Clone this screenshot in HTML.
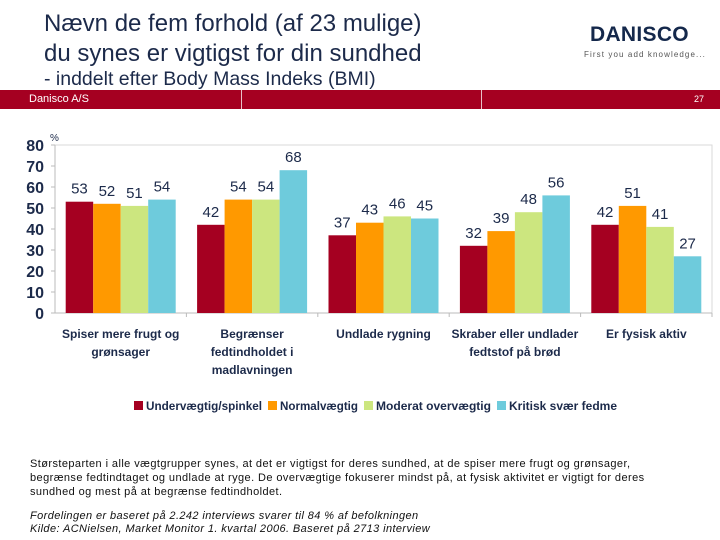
<!DOCTYPE html>
<html><head><meta charset="utf-8"><style>
body{margin:0;width:720px;height:540px;background:#fff;font-family:"Liberation Sans",sans-serif;position:relative;overflow:hidden}
.t{position:absolute;color:#1c2a4a}
</style></head><body>
<div class="t" style="left:44px;top:9px;font-size:24px;line-height:30px">Nævn de fem forhold (af 23 mulige)<br>du synes er vigtigst for din sundhed</div>
<div class="t" style="left:44px;top:68px;font-size:19.5px">- inddelt efter Body Mass Indeks (BMI)</div>
<div style="position:absolute;left:590px;top:23px;color:#14284b;font-weight:bold;font-size:21px;letter-spacing:0.3px">DANISCO</div>
<div style="position:absolute;left:584px;top:50px;color:#555;font-size:8px;letter-spacing:1.1px">First you add knowledge...</div>
<div style="position:absolute;left:0;top:90px;width:720px;height:19px;background:#a50021">
<div style="position:absolute;left:241px;top:0;width:1px;height:19px;background:#e8c0c8"></div>
<div style="position:absolute;left:481px;top:0;width:1px;height:19px;background:#e8c0c8"></div>
<span style="position:absolute;left:29px;top:3px;color:#fff;font-size:11px">Danisco A/S</span>
<span style="position:absolute;left:694px;top:4px;color:#fff;font-size:9px">27</span>
</div>
<svg id="chart" width="720" height="540" style="position:absolute;left:0;top:0" font-family="Liberation Sans, sans-serif"></svg>
<div class="t" style="left:30px;top:457px;font-size:11px;line-height:14px;color:#111;letter-spacing:0.42px;white-space:nowrap">Størsteparten i alle vægtgrupper synes, at det er vigtigst for deres sundhed, at de spiser mere frugt og grønsager,<br>begrænse fedtindtaget og undlade at ryge. De overvægtige fokuserer mindst på, at fysisk aktivitet er vigtigt for deres<br>sundhed og mest på at begrænse fedtindholdet.</div>
<div class="t" style="left:30px;top:510px;font-size:11px;line-height:13px;color:#111;font-style:italic;letter-spacing:0.4px;white-space:nowrap">Fordelingen er baseret på 2.242 interviews svarer til 84 % af befolkningen<br>Kilde: ACNielsen, Market Monitor 1. kvartal 2006. Baseret på 2713 interview</div>
<script>
const categories=[["Spiser mere frugt og","grønsager"],["Begrænser","fedtindholdet i","madlavningen"],["Undlade rygning"],["Skraber eller undlader","fedtstof på brød"],["Er fysisk aktiv"]];
const seriesNames=["Undervægtig/spinkel","Normalvægtig","Moderat overvægtig","Kritisk svær fedme"];
const undervaegtig=[53,42,37,32,42];
const normalvaegtig=[52,54,43,39,51];
const moderat=[51,54,46,48,41];
const kritisk=[54,68,45,56,27];
const yTicks=[0,10,20,30,40,50,60,70,80];
const series=[undervaegtig,normalvaegtig,moderat,kritisk];
const colors=["#a50021","#ff9900","#cce67f","#6ecbdc"];
const svg=document.getElementById('chart');const NS="http://www.w3.org/2000/svg";
function mk(t,a,p){const e=document.createElementNS(NS,t);for(const k in a)e.setAttribute(k,a[k]);(p||svg).appendChild(e);return e;}
const x0=55,x1=712,yTop=145,yBot=313,yMax=80;
const y=v=>yBot-(v/yMax)*(yBot-yTop);
const gw=(x1-x0)/categories.length,bw=27.5,off=(gw-4*bw)/2;
const frame=mk('rect',{x:x0,y:yTop,width:x1-x0,height:yBot-yTop,fill:'none',stroke:'#d9d9d9'});

mk('line',{x1:x0,y1:yBot,x2:x1,y2:yBot,stroke:'#bbb'});
mk('line',{x1:x0,y1:yTop,x2:x0,y2:yBot,stroke:'#bbb'});
yTicks.forEach(v=>{const t=mk('text',{x:44,y:y(v)+6,'text-anchor':'end','font-size':16,'font-weight':'bold',fill:'#1c2a4a'});t.textContent=v;

mk('line',{x1:x0-4,y1:y(v),x2:x0,y2:y(v),stroke:'#bbb'});});
const pct=mk('text',{x:50,y:141,'font-size':10,fill:'#1c2a4a'});pct.textContent='%';

categories.forEach((c,i)=>{const gx=x0+i*gw;
mk('line',{x1:gx+gw,y1:yBot,x2:gx+gw,y2:yBot+4,stroke:'#bbb'});
series.forEach((s,j)=>{const v=s[i];const bx=gx+off+j*bw;
const r=mk('rect',{x:bx,y:y(v),width:bw,height:yBot-y(v),fill:colors[j]});

const t=mk('text',{x:bx+bw/2,y:y(v)-8,'text-anchor':'middle','font-size':15,fill:'#1c2a4a'});t.textContent=v;
});
c.forEach((l,k)=>{const t=mk('text',{x:gx+gw/2,y:338+k*18,'text-anchor':'middle','font-size':12,'font-weight':'bold',fill:'#1c2a4a'});t.textContent=l;
});});
let lx=134;const lw=[134,96,133,112];const tl=[116,78,115,108];
seriesNames.forEach((n,j)=>{const g=mk('g',{});
mk('rect',{x:lx,y:401,width:9,height:9,fill:colors[j]},g);
const t=mk('text',{x:lx+12,y:410,'font-size':12,'font-weight':'bold',fill:'#1c2a4a',textLength:tl[j],lengthAdjust:'spacingAndGlyphs'},g);t.textContent=n;lx+=lw[j];});
</script>
</body></html>
